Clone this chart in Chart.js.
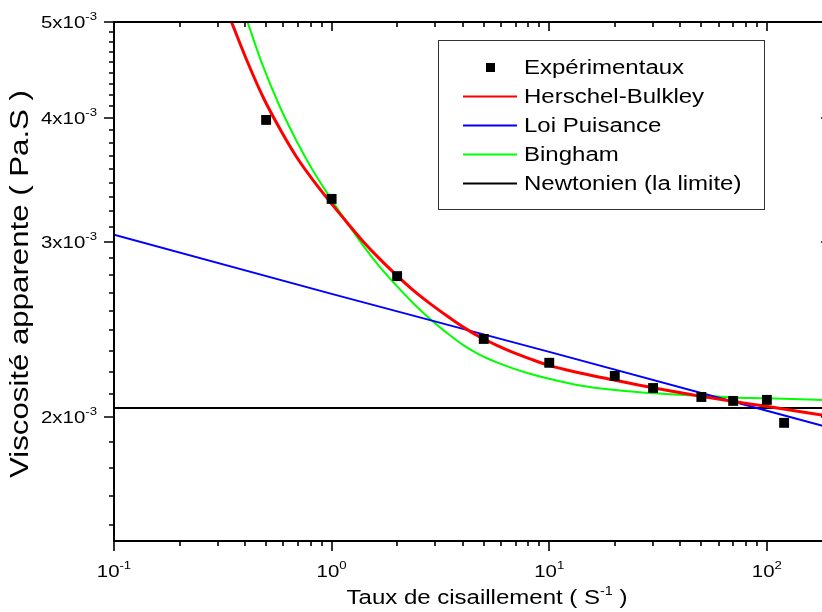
<!DOCTYPE html>
<html>
<head>
<meta charset="utf-8">
<script src="https://cdn.jsdelivr.net/npm/chart.js@4.4.1/dist/chart.umd.min.js"></script>
<style>
  html, body { margin: 0; padding: 0; background: #fff; overflow: hidden; }
  #wrap { width: 822px; height: 612px; overflow: hidden; }
  canvas { display: block; }
</style>
</head>
<body>
<div id="wrap"><canvas id="chart" width="840" height="612"></canvas></div>
<script>
// Measured apparent viscosity (Pa.s) against shear rate (1/s)
const shearRate = [0.5, 1, 2, 5, 10, 20, 30, 50, 70, 100, 120];
const viscosity = [3.984e-3, 3.317e-3, 2.773e-3, 2.397e-3, 2.268e-3, 2.200e-3, 2.139e-3, 2.095e-3, 2.076e-3, 2.081e-3, 1.973e-3];

// Herschel-Bulkley fitted curve
const hbRate = [0.3466, 0.4107, 0.4864, 0.5825, 0.6901, 0.8264, 0.979, 1.172, 1.389, 1.663, 1.991, 2.359, 2.825, 3.382, 4.008, 4.798, 5.744, 6.807, 8.152, 9.759, 13.85, 19.64, 30.0, 49.9, 69.3, 99.4, 195];
const hbVisc = [5.000e-3, 4.557e-3, 4.192e-3, 3.892e-3, 3.656e-3, 3.458e-3, 3.298e-3, 3.144e-3, 3.009e-3, 2.886e-3, 2.778e-3, 2.686e-3, 2.603e-3, 2.529e-3, 2.465e-3, 2.408e-3, 2.362e-3, 2.324e-3, 2.289e-3, 2.257e-3, 2.215e-3, 2.180e-3, 2.140e-3, 2.098e-3, 2.074e-3, 2.050e-3, 2.003e-3];

// Power-law fitted curve
const plRate = [0.1, 1, 10, 100, 195];
const plVisc = [3.052e-3, 2.661e-3, 2.326e-3, 2.029e-3, 1.950e-3];

// Bingham fitted curve
const bnRate = [0.4107, 0.4814, 0.5764, 0.6901, 0.8176, 0.979, 1.172, 1.389, 1.663, 1.991, 2.359, 2.825, 3.382, 4.008, 4.798, 5.744, 6.807, 8.152, 9.759, 13.85, 19.64, 30.0, 49.9, 69.3, 99.4, 195];
const bnVisc = [5.000e-3, 4.526e-3, 4.115e-3, 3.794e-3, 3.547e-3, 3.333e-3, 3.144e-3, 2.981e-3, 2.833e-3, 2.711e-3, 2.607e-3, 2.512e-3, 2.431e-3, 2.364e-3, 2.310e-3, 2.270e-3, 2.239e-3, 2.211e-3, 2.188e-3, 2.152e-3, 2.130e-3, 2.113e-3, 2.101e-3, 2.093e-3, 2.089e-3, 2.079e-3];

// Newtonian limit
const nwRate = [0.1, 195];
const nwVisc = [2.042e-3, 2.042e-3];

const seriesNames = ['Expérimentaux', 'Herschel-Bulkley', 'Loi Puisance', 'Bingham', 'Newtonien (la limite)'];

// Axis ticks and labels
const xMajorTicks = [0.1, 1, 10, 100];
const xMajorExp = ['-1', '0', '1', '2'];
const yMajorTicks = [2e-3, 3e-3, 4e-3, 5e-3];
const yMajorMant = ['2x10', '3x10', '4x10', '5x10'];
const yMajorExp = ['-3', '-3', '-3', '-3'];
const xTitle = ['Taux de cisaillement ( S', '-1', ' )'];
const yTitle = 'Viscosité apparente ( Pa.S )';

const FONT = '"Liberation Sans", Arial, Helvetica, sans-serif';
const SX = 1.2; // widening of glyphs along the writing direction

const pts = (xs, ys) => xs.map((x, i) => ({ x, y: ys[i] }));

// minor ticks: 2..9 per decade on x, eight per 1e-3 step on y
function xMinorTicks(min, max) {
  const out = [];
  for (let e = -2; e <= 3; e++) {
    for (let m = 2; m <= 9; m++) {
      const v = m * Math.pow(10, e);
      if (v > min && v < max) out.push(v);
    }
  }
  return out;
}
function yMinorTicks(min, max) {
  const out = [];
  const step = 1e-3;
  for (let k = 1; k <= 5; k++) {
    for (let j = 1; j <= 8; j++) {
      const v = k * step + j * step / 9;
      if (v > min && v < max) out.push(v);
    }
  }
  return out;
}

// text runs with superscripts: parts = [text, size, rise]
function drawRich(ctx, parts, x, y, align) {
  let total = 0;
  const widths = parts.map(p => {
    ctx.font = p[1] + 'px ' + FONT;
    const w = ctx.measureText(p[0]).width * SX;
    total += w;
    return w;
  });
  let cx = align === 'right' ? x - total : align === 'center' ? x - total / 2 : x;
  parts.forEach((p, i) => {
    ctx.save();
    ctx.translate(cx, y - p[2]);
    ctx.scale(SX, 1);
    ctx.font = p[1] + 'px ' + FONT;
    ctx.textAlign = 'left';
    ctx.textBaseline = 'alphabetic';
    ctx.fillStyle = '#000';
    ctx.fillText(p[0], 0, 0);
    ctx.restore();
    cx += widths[i];
  });
}

const framePlugin = {
  id: 'frame',
  afterDraw(chart) {
    const ctx = chart.ctx;
    const xs = chart.scales.x, ys = chart.scales.y;
    const a = chart.chartArea;
    const L = Math.round(a.left), R = Math.round(a.right), T = Math.round(a.top), B = Math.round(a.bottom);
    ctx.save();
    ctx.strokeStyle = '#000';
    ctx.lineWidth = 2;
    ctx.beginPath();
    ctx.moveTo(L, T - 1); ctx.lineTo(L, B + 1);
    ctx.moveTo(L - 1, B); ctx.lineTo(R + 1, B);
    ctx.moveTo(L - 1, T); ctx.lineTo(R + 1, T);
    ctx.moveTo(R, T - 1); ctx.lineTo(R, B + 1);
    ctx.stroke();

    // tick marks: outward on left/bottom, inward on top/right
    ctx.lineWidth = 1.6;
    ctx.beginPath();
    xMajorTicks.forEach(v => {
      const px = Math.round(xs.getPixelForValue(v));
      ctx.moveTo(px, B); ctx.lineTo(px, B + 10);
      ctx.moveTo(px, T); ctx.lineTo(px, T + 9);
    });
    xMinorTicks(xs.min, xs.max).forEach(v => {
      const px = Math.round(xs.getPixelForValue(v));
      ctx.moveTo(px, B); ctx.lineTo(px, B + 5);
      ctx.moveTo(px, T); ctx.lineTo(px, T + 5);
    });
    yMajorTicks.forEach(v => {
      const py = Math.round(ys.getPixelForValue(v));
      ctx.moveTo(L, py); ctx.lineTo(L - 10, py);
      ctx.moveTo(R, py); ctx.lineTo(R - 9, py);
    });
    yMinorTicks(ys.min, ys.max).forEach(v => {
      const py = Math.round(ys.getPixelForValue(v));
      ctx.moveTo(L, py); ctx.lineTo(L - 5, py);
      ctx.moveTo(R, py); ctx.lineTo(R - 5, py);
    });
    ctx.stroke();

    // tick labels
    xMajorTicks.forEach((v, i) => {
      const px = xs.getPixelForValue(v);
      drawRich(ctx, [['10', 17, 0], [xMajorExp[i], 11, 8]], px, B + 36, 'center');
    });
    yMajorTicks.forEach((v, i) => {
      const py = ys.getPixelForValue(v);
      drawRich(ctx, [[yMajorMant[i], 17, 0], [yMajorExp[i], 11, 8]], L - 17, py + 6, 'right');
    });

    // axis titles
    drawRich(ctx, [[xTitle[0], 20, 0], [xTitle[1], 12, 9], [xTitle[2], 20, 0]], 487, 604, 'center');
    ctx.save();
    ctx.translate(28, 284);
    ctx.rotate(-Math.PI / 2);
    drawRich(ctx, [[yTitle, 26, 0]], 0, 0, 'center');
    ctx.restore();

    // legend box
    const lx = 438, ly = 40, lw = 326, lh = 169;
    ctx.fillStyle = '#fff';
    ctx.fillRect(lx, ly, lw, lh);
    ctx.strokeStyle = '#333';
    ctx.lineWidth = 1;
    ctx.strokeRect(lx + 0.5, ly + 0.5, lw, lh);
    chart.data.datasets.forEach((ds, i) => {
      const cy = 67 + 29 * i;
      if (i === 0) {
        ctx.fillStyle = ds.backgroundColor;
        ctx.fillRect(486, cy - 4, 9, 9);
      } else {
        ctx.strokeStyle = ds.borderColor;
        ctx.lineWidth = 2;
        ctx.beginPath();
        ctx.moveTo(463, cy + 0.5); ctx.lineTo(517, cy + 0.5);
        ctx.stroke();
      }
      drawRich(ctx, [[ds.label, 20, 0]], 524, cy + 7, 'left');
    });
    ctx.restore();
  }
};

new Chart(document.getElementById('chart'), {
  type: 'scatter',
  data: {
    datasets: [
      { label: seriesNames[0], data: pts(shearRate, viscosity), showLine: false,
        pointStyle: 'rect', pointRadius: 7, pointBorderWidth: 0,
        backgroundColor: '#000', borderColor: '#000' },
      { label: seriesNames[1], data: pts(hbRate, hbVisc), showLine: true, pointRadius: 0,
        borderColor: '#ff0000', backgroundColor: '#ff0000', borderWidth: 3, cubicInterpolationMode: 'monotone' },
      { label: seriesNames[2], data: pts(plRate, plVisc), showLine: true, pointRadius: 0,
        borderColor: '#0000ff', backgroundColor: '#0000ff', borderWidth: 2 },
      { label: seriesNames[3], data: pts(bnRate, bnVisc), showLine: true, pointRadius: 0,
        borderColor: '#00ff00', backgroundColor: '#00ff00', borderWidth: 2, cubicInterpolationMode: 'monotone' },
      { label: seriesNames[4], data: pts(nwRate, nwVisc), showLine: true, pointRadius: 0,
        borderColor: '#000000', backgroundColor: '#000000', borderWidth: 2 }
    ]
  },
  options: {
    responsive: false,
    animation: false,
    devicePixelRatio: 1,
    layout: { padding: { left: 0, top: 22, right: 10, bottom: 0 } },
    plugins: { legend: { display: false }, tooltip: { enabled: false } },
    scales: {
      x: {
        type: 'logarithmic', min: 0.1, max: 195,
        grid: { display: false, drawTicks: false },
        border: { display: false },
        ticks: { display: false },
        afterFit(s) { s.height = 71; }
      },
      y: {
        type: 'logarithmic', min: 1.5e-3, max: 5e-3,
        grid: { display: false, drawTicks: false },
        border: { display: false },
        ticks: { display: false },
        afterFit(s) { s.width = 114; }
      }
    }
  },
  plugins: [framePlugin]
});
</script>
</body>
</html>
